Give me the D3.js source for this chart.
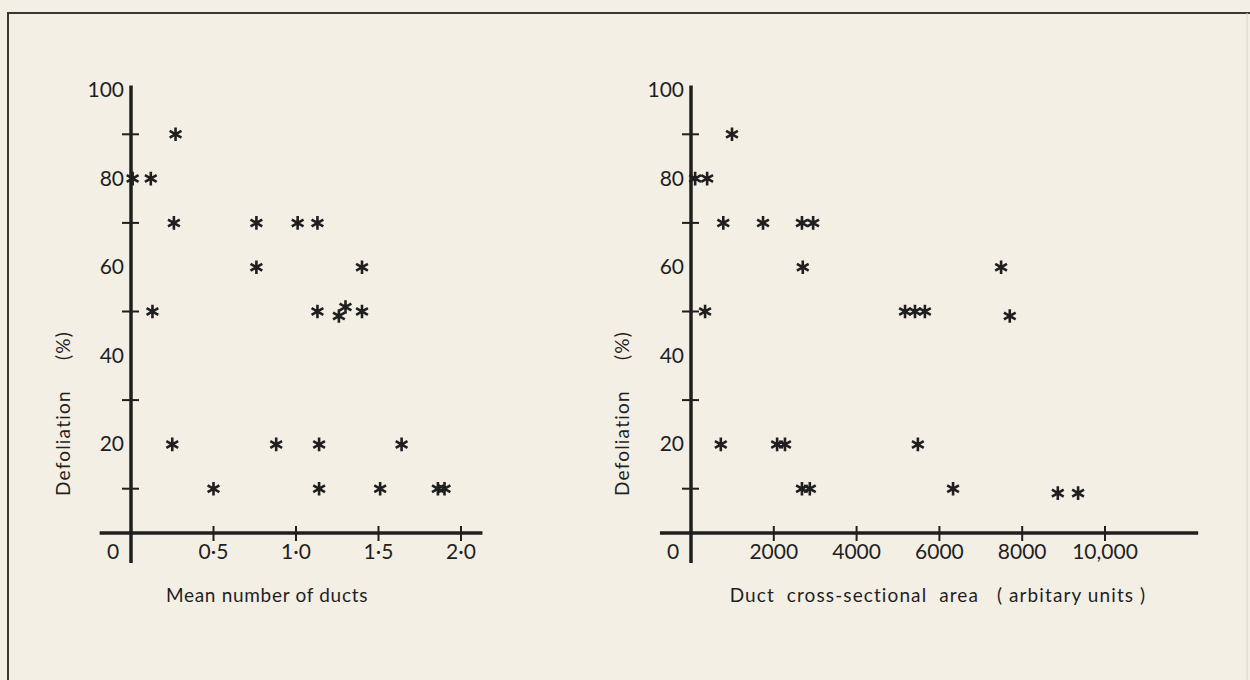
<!DOCTYPE html>
<html>
<head>
<meta charset="utf-8">
<script src="https://cdn.jsdelivr.net/npm/d3@7"></script>
<style>
  body { margin: 0; background: #f3efe5; }
  svg { display: block; }
</style>
</head>
<body>
<div id="chart"></div>
<script>
// defoliation (%) against mean number of ducts
var ductCount = [0.27, 0.01, 0.12, 0.26, 0.76, 1.01, 1.13, 0.76, 1.40, 0.13, 1.13, 1.26, 1.30, 1.40,
                 0.25, 0.88, 1.14, 1.64, 0.50, 1.14, 1.51, 1.86, 1.90];
var ductCountDefol = [90, 80, 80, 70, 70, 70, 70, 60, 60, 50, 50, 49, 51, 50,
                      20, 20, 20, 20, 10, 10, 10, 10, 10];

// defoliation (%) against duct cross-sectional area
var ductArea = [990, 100, 390, 780, 1740, 2680, 2950, 2700, 7490, 340, 5170, 5410, 5650, 7700,
                720, 2080, 2270, 5480, 2680, 2870, 6330, 8860, 9350];
var ductAreaDefol = [90, 80, 80, 70, 70, 70, 70, 60, 60, 50, 50, 50, 50, 49,
                     20, 20, 20, 20, 10, 10, 10, 9, 9];

var yLabelTicks = [100, 80, 60, 40, 20];
var yMinorTicks = [90, 70, 50, 30, 10];
var countTicks = [0.5, 1.0, 1.5, 2.0];
var countTickLabels = ["0·5", "1·0", "1·5", "2·0"];
var areaTicks = [2000, 4000, 6000, 8000, 10000];
var areaTickLabels = ["2000", "4000", "6000", "8000", "10,000"];

var ink = "#1f1f1f";
var font = "Lato, 'Open Sans', sans-serif";

var svg = d3.select("#chart")
  .append("svg")
  .attr("width", 1250)
  .attr("height", 680);

// page frame (scan edge)
svg.append("path")
  .attr("fill", "none")
  .attr("stroke", "#3a3530")
  .attr("stroke-width", 2)
  .attr("d", "M 8 680 L 8 13 L 1250 13");

svg.append("line")
  .attr("stroke", "#d8d4ca")
  .attr("stroke-width", 1)
  .attr("x1", 1247).attr("x2", 1247)
  .attr("y1", 13).attr("y2", 680);

function draw_panel(opt) {
    var x = d3.scaleLinear().domain(opt.xDomain).range(opt.xRange);
    var y = d3.scaleLinear().domain([0, 100]).range([533, 90]);
    var g = svg.append("g");

    // axes
    g.append("line")
      .attr("stroke", ink)
      .attr("stroke-width", 3.5)
      .attr("x1", x(0)).attr("x2", x(0))
      .attr("y1", y(101)).attr("y2", y(-6.8));

    g.append("line")
      .attr("stroke", ink)
      .attr("stroke-width", 3.5)
      .attr("x1", x(opt.xAxisFrom)).attr("x2", x(opt.xAxisTo))
      .attr("y1", y(0)).attr("y2", y(0));

    // unlabelled y ticks
    g.selectAll(".ytick")
      .data(yMinorTicks)
      .enter()
      .append("line")
      .attr("stroke", ink)
      .attr("stroke-width", 2)
      .attr("x1", x(0) - 9).attr("x2", x(0) + 8)
      .attr("y1", function(d) { return y(d); })
      .attr("y2", function(d) { return y(d); });

    g.selectAll(".ylab")
      .data(yLabelTicks)
      .enter()
      .append("text")
      .attr("x", x(0) - 7)
      .attr("y", function(d) { return y(d) + 7; })
      .attr("text-anchor", "end")
      .attr("fill", ink)
      .attr("font-family", font)
      .style("font-size", "21px")
      .text(function(d) { return d; });

    g.append("text")
      .attr("x", x(0) - 18)
      .attr("y", y(0) + 26)
      .attr("text-anchor", "middle")
      .attr("fill", ink)
      .attr("font-family", font)
      .style("font-size", "21px")
      .text("0");

    // x ticks
    g.selectAll(".xtick")
      .data(opt.ticks)
      .enter()
      .append("line")
      .attr("stroke", ink)
      .attr("stroke-width", 2)
      .attr("x1", function(d) { return x(d); })
      .attr("x2", function(d) { return x(d); })
      .attr("y1", y(0) - 7).attr("y2", y(0) + 8);

    g.selectAll(".xlab")
      .data(opt.ticks)
      .enter()
      .append("text")
      .attr("x", function(d) { return x(d); })
      .attr("y", y(0) + 26)
      .attr("text-anchor", "middle")
      .attr("fill", ink)
      .attr("font-family", font)
      .style("font-size", "21px")
      .text(function(d, i) { return opt.tickLabels[i]; });

    // titles
    g.append("text")
      .attr("x", opt.titleX)
      .attr("y", 602)
      .attr("text-anchor", "middle")
      .attr("fill", ink)
      .attr("font-family", font)
      .style("font-size", "19px")
      .style("letter-spacing", opt.titleSpacing)
      .style("white-space", "pre")
      .text(opt.title);

    g.append("text")
      .attr("transform", "translate(" + opt.yTitleX + ",496) rotate(-90)")
      .attr("text-anchor", "start")
      .attr("fill", ink)
      .attr("font-family", font)
      .style("font-size", "19px")
      .style("letter-spacing", "1.2px")
      .style("white-space", "pre")
      .text("Defoliation     (%)");

    // points
    g.selectAll(".pt")
      .data(opt.xs)
      .enter()
      .append("path")
      .attr("fill", "none")
      .attr("stroke", ink)
      .attr("stroke-width", 2.6)
      .attr("stroke-linecap", "butt")
      .attr("d", d3.symbol().type(d3.symbolAsterisk).size(130))
      .attr("transform", function(d, i) {
          return "translate(" + x(d) + "," + y(opt.ys[i]) + ")";
      });
}

draw_panel({
    xDomain: [0, 2], xRange: [131, 461],
    xAxisFrom: -0.19, xAxisTo: 2.13,
    ticks: countTicks, tickLabels: countTickLabels,
    xs: ductCount, ys: ductCountDefol,
    title: "Mean number of ducts", titleX: 267, titleSpacing: "0.7px",
    yTitleX: 70
});

draw_panel({
    xDomain: [0, 10000], xRange: [691, 1105],
    xAxisFrom: -750, xAxisTo: 12250,
    ticks: areaTicks, tickLabels: areaTickLabels,
    xs: ductArea, ys: ductAreaDefol,
    title: "Duct  cross-sectional  area   ( arbitary units )", titleX: 938, titleSpacing: "1.1px",
    yTitleX: 629
});
</script>
</body>
</html>
